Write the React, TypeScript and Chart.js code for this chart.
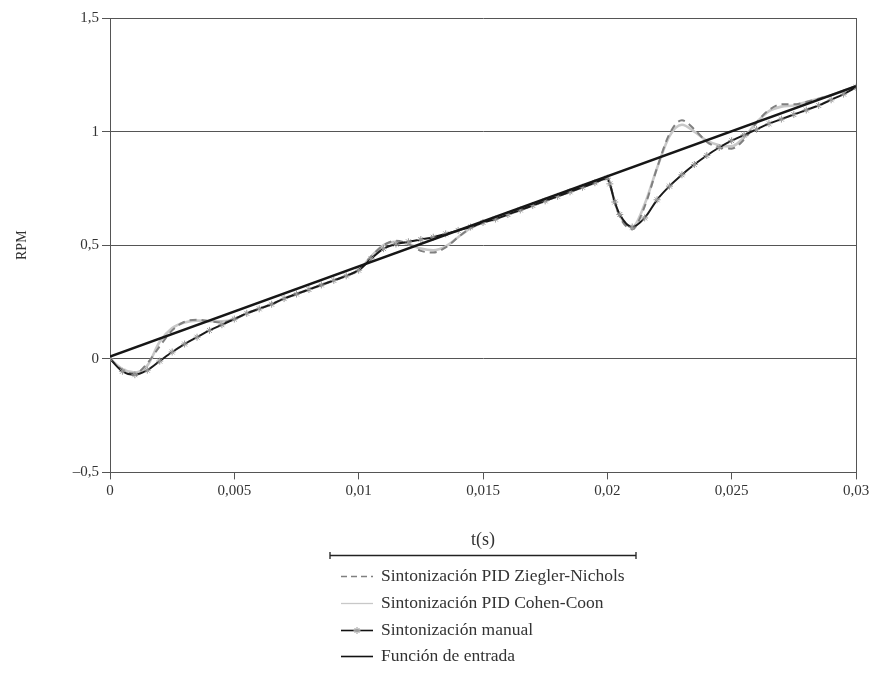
import React, { useEffect, useRef } from "react";
import { Chart, registerables } from "chart.js";

Chart.register(...registerables);

// ---- Data ----
const timeS = [
  0, 0.0005, 0.001, 0.0015, 0.002, 0.0025, 0.003, 0.0035, 0.004, 0.0045,
  0.005, 0.0055, 0.006, 0.0065, 0.007, 0.0075, 0.008, 0.0085, 0.009, 0.0095,
  0.01, 0.0105, 0.011, 0.0115, 0.012, 0.0125, 0.013, 0.0135, 0.014, 0.0145,
  0.015, 0.0155, 0.016, 0.0165, 0.017, 0.0175, 0.018, 0.0185, 0.019, 0.0195,
  0.02, 0.0201, 0.0203, 0.0205, 0.021, 0.0215, 0.022, 0.0225, 0.023, 0.0235,
  0.024, 0.0245, 0.025, 0.0255, 0.026, 0.0265, 0.027, 0.0275, 0.028, 0.0285,
  0.029, 0.0295, 0.03,
];

const zieglerNichols = [
  0, -0.05, -0.065, -0.02, 0.055, 0.125, 0.163, 0.172, 0.165, 0.16,
  0.175, 0.2, 0.22, 0.24, 0.265, 0.285, 0.305, 0.325, 0.345, 0.365,
  0.39, 0.45, 0.5, 0.52, 0.505, 0.475, 0.468, 0.49, 0.535, 0.575,
  0.6, 0.615, 0.635, 0.655, 0.675, 0.695, 0.715, 0.735, 0.755, 0.775,
  0.795, 0.77, 0.69, 0.625, 0.57, 0.67, 0.84, 0.99, 1.05, 1.01,
  0.955, 0.93, 0.925, 0.965, 1.04, 1.095, 1.12, 1.12, 1.13, 1.145,
  1.16, 1.18, 1.2,
];

const cohenCoon = [
  0, -0.045, -0.06, -0.03, 0.075, 0.135, 0.16, 0.168, 0.166, 0.165,
  0.175, 0.2, 0.22, 0.24, 0.265, 0.285, 0.305, 0.325, 0.345, 0.365,
  0.39, 0.45, 0.5, 0.515, 0.505, 0.485, 0.478, 0.495, 0.535, 0.575,
  0.6, 0.615, 0.635, 0.655, 0.675, 0.695, 0.715, 0.735, 0.755, 0.775,
  0.795, 0.77, 0.69, 0.63, 0.58, 0.68, 0.84, 0.98, 1.03, 1.0,
  0.96, 0.94, 0.935, 0.975, 1.04, 1.09, 1.11, 1.115, 1.13, 1.145,
  1.16, 1.18, 1.2,
];

const manual = [
  0, -0.055, -0.07, -0.05, -0.01, 0.03, 0.065, 0.095, 0.125, 0.15,
  0.175, 0.2, 0.22, 0.24, 0.265, 0.285, 0.305, 0.325, 0.345, 0.365,
  0.39, 0.44, 0.485, 0.505, 0.515, 0.525, 0.535, 0.55, 0.565, 0.58,
  0.6, 0.615, 0.635, 0.655, 0.675, 0.695, 0.715, 0.735, 0.755, 0.775,
  0.795, 0.77, 0.69, 0.635, 0.58, 0.62, 0.7, 0.76, 0.81, 0.855,
  0.895, 0.93, 0.96, 0.985, 1.01, 1.035, 1.055, 1.075, 1.095, 1.115,
  1.14, 1.165, 1.195,
];

const inputT = [0, 0.03];
const inputV = [0.01, 1.2];

const xTickValues = [0, 0.005, 0.01, 0.015, 0.02, 0.025, 0.03];
const xTickLabels = ["0", "0,005", "0,01", "0,015", "0,02", "0,025", "0,03"];
const yTickValues = [-0.5, 0, 0.5, 1, 1.5];
const yTickLabels = ["\u20130,5", "0", "0,5", "1", "1,5"];

const seriesNames = [
  "Sintonización PID Ziegler-Nichols",
  "Sintonización PID Cohen-Coon",
  "Sintonización manual",
  "Función de entrada",
];

const FONT = "'Liberation Serif', 'Times New Roman', serif";
const TEXT = "#333333";
const GRID = "#555555";

const pts = (xs: number[], ys: number[]) => xs.map((x, i) => ({ x, y: ys[i] }));

const decorPlugin = {
  id: "decor",
  afterDraw(chart: any) {
    const { ctx, chartArea: a } = chart;
    ctx.save();
    // right border of plot box
    ctx.strokeStyle = GRID;
    ctx.lineWidth = 1;
    ctx.beginPath();
    ctx.moveTo(Math.round(a.right) + 0.5, a.top);
    ctx.lineTo(Math.round(a.right) + 0.5, a.bottom);
    ctx.stroke();

    // bar above legend
    const barY = 555.5;
    ctx.strokeStyle = "#222";
    ctx.lineWidth = 1.3;
    ctx.beginPath();
    ctx.moveTo(330, barY);
    ctx.lineTo(636, barY);
    ctx.moveTo(330, barY - 3.5);
    ctx.lineTo(330, barY + 3.5);
    ctx.moveTo(636, barY - 3.5);
    ctx.lineTo(636, barY + 3.5);
    ctx.stroke();

    // legend rows
    const rowsY = [576, 603, 630, 656];
    const x0 = 341;
    const x1 = 373;
    ctx.font = `17.5px ${FONT}`;
    ctx.textBaseline = "middle";
    ctx.textAlign = "left";
    rowsY.forEach((y, i) => {
      ctx.save();
      ctx.beginPath();
      if (i === 0) {
        ctx.setLineDash([6, 4]);
        ctx.strokeStyle = "#808080";
        ctx.lineWidth = 1.3;
      } else if (i === 1) {
        ctx.strokeStyle = "#c8c8c8";
        ctx.lineWidth = 1.3;
      } else {
        ctx.strokeStyle = "#111";
        ctx.lineWidth = 1.6;
      }
      ctx.moveTo(x0, y + 0.5);
      ctx.lineTo(x1, y + 0.5);
      ctx.stroke();
      ctx.restore();
      if (i === 2) {
        ctx.save();
        ctx.strokeStyle = "#9a9a9a";
        ctx.lineWidth = 1;
        const cx = (x0 + x1) / 2;
        const r = 3.5;
        ctx.beginPath();
        for (let k = 0; k < 4; k++) {
          const ang = (k * Math.PI) / 4;
          ctx.moveTo(cx - r * Math.cos(ang), y + 0.5 - r * Math.sin(ang));
          ctx.lineTo(cx + r * Math.cos(ang), y + 0.5 + r * Math.sin(ang));
        }
        ctx.stroke();
        ctx.restore();
      }
      ctx.fillStyle = TEXT;
      ctx.fillText(seriesNames[i], 381, y);
    });
    ctx.restore();
  },
};

export default function App() {
  const ref = useRef<HTMLCanvasElement | null>(null);

  useEffect(() => {
    if (!ref.current) return;
    const chart = new Chart(ref.current, {
      type: "line",
      data: {
        datasets: [
          {
            label: seriesNames[3],
            data: pts(inputT, inputV),
            borderColor: "#161616",
            borderWidth: 2.6,
            pointRadius: 0,
            order: 0,
          },
          {
            label: seriesNames[2],
            data: pts(timeS, manual),
            borderColor: "#1a1a1a",
            borderWidth: 2,
            pointStyle: "star",
            pointRadius: 3.5,
            pointBorderColor: "#9a9a9a",
            pointBackgroundColor: "#9a9a9a",
            pointBorderWidth: 1,
            cubicInterpolationMode: "monotone",
            order: 1,
          },
          {
            label: seriesNames[0],
            data: pts(timeS, zieglerNichols),
            borderColor: "#808080",
            borderWidth: 2,
            borderDash: [7, 5],
            pointRadius: 0,
            cubicInterpolationMode: "monotone",
            order: 2,
          },
          {
            label: seriesNames[1],
            data: pts(timeS, cohenCoon),
            borderColor: "#c8c8c8",
            borderWidth: 2.6,
            pointRadius: 0,
            cubicInterpolationMode: "monotone",
            order: 3,
          },
        ],
      },
      options: {
        responsive: false,
        animation: false,
        events: [],
        layout: { padding: { top: 18, right: 19, left: 0, bottom: 131 } },
        plugins: {
          legend: { display: false },
          tooltip: { enabled: false },
        },
        scales: {
          x: {
            type: "linear",
            min: 0,
            max: 0.03,
            afterBuildTicks: (scale: any) => {
              scale.ticks = xTickValues.map((v) => ({ value: v }));
            },
            ticks: {
              callback: (_v: any, i: number) => xTickLabels[i],
              font: { family: FONT, size: 15 },
              color: TEXT,
              padding: 3,
              maxRotation: 0,
            },
            grid: {
              drawOnChartArea: false,
              drawTicks: true,
              tickLength: 7,
              color: GRID,
            },
            border: { color: GRID, width: 1 },
            title: {
              display: true,
              text: "t(s)",
              font: { family: FONT, size: 18 },
              color: TEXT,
              padding: { top: 26, bottom: 0 },
            },
          },
          y: {
            type: "linear",
            min: -0.5,
            max: 1.5,
            afterBuildTicks: (scale: any) => {
              scale.ticks = yTickValues.map((v) => ({ value: v }));
            },
            afterFit: (scale: any) => {
              scale.width = 110;
            },
            ticks: {
              callback: (_v: any, i: number) => yTickLabels[i],
              font: { family: FONT, size: 15 },
              color: TEXT,
              padding: 3,
            },
            grid: {
              color: GRID,
              tickLength: 8,
              lineWidth: 1,
            },
            border: { color: GRID, width: 1 },
            title: {
              display: true,
              text: "RPM",
              font: { family: FONT, size: 14 },
              color: TEXT,
              padding: { top: 14, bottom: 0 },
            },
          },
        },
      },
      plugins: [decorPlugin],
    });
    return () => chart.destroy();
  }, []);

  return (
    <div style={{ position: "fixed", left: 0, top: 0, width: 875, height: 682, background: "#fff" }}>
      <canvas ref={ref} width={875} height={682} style={{ width: 875, height: 682, display: "block" }} />
    </div>
  );
}
